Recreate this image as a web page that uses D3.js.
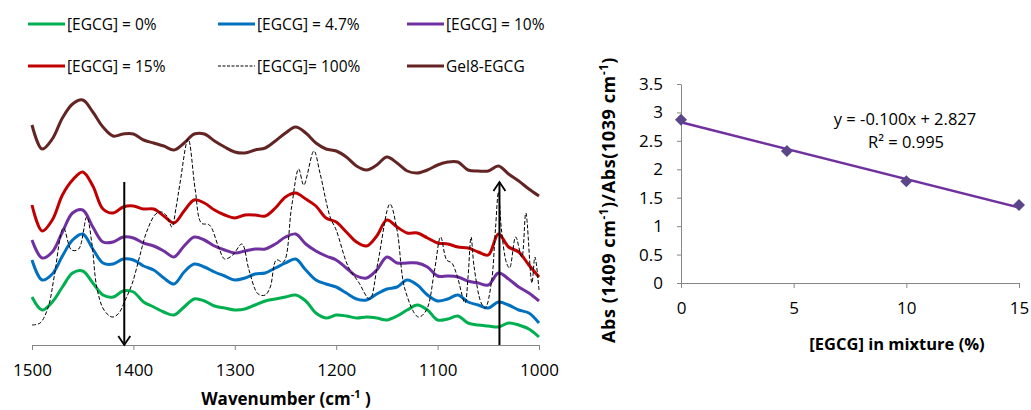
<!DOCTYPE html>
<meta charset="utf-8">
<body style="margin:0;background:#fff">
<script src="https://d3js.org/d3.v7.min.js"></script>
<svg></svg>
<script>
    // ---- data ----
    var wavenumber = [1500,1490,1480,1470,1460,1450,1440,1430,1420,1410,1400,1390,1380,1370,1360,1350,1340,1330,1320,1310,
        1300,1290,1280,1270,1260,1250,1240,1230,1220,1210,1200,1190,1180,1170,1160,1150,1140,1130,1120,1110,
        1100,1090,1080,1070,1060,1050,1040,1030,1020,1010,1000];

    var egcg0 = [0.49,0.36,0.44,0.59,0.73,0.75,0.63,0.51,0.49,0.55,0.54,0.44,0.39,0.34,0.31,0.39,0.47,0.45,0.40,0.38,
        0.36,0.37,0.41,0.45,0.47,0.49,0.51,0.45,0.33,0.28,0.31,0.30,0.28,0.29,0.28,0.26,0.30,0.36,0.41,0.36,
        0.26,0.27,0.30,0.23,0.21,0.20,0.19,0.23,0.21,0.17,0.09];
    var egcg47 = [0.86,0.66,0.72,0.90,1.06,1.12,0.97,0.83,0.82,0.87,0.86,0.80,0.76,0.68,0.62,0.74,0.82,0.79,0.74,0.70,
        0.66,0.68,0.72,0.73,0.78,0.83,0.87,0.76,0.66,0.62,0.59,0.53,0.47,0.46,0.52,0.57,0.59,0.66,0.61,0.51,
        0.45,0.47,0.51,0.44,0.41,0.38,0.44,0.41,0.36,0.33,0.23];
    var egcg10 = [1.06,0.88,0.94,1.14,1.33,1.36,1.19,1.04,1.04,1.09,1.08,1.03,1.00,0.95,0.89,1.00,1.09,1.06,1.00,0.96,
        0.93,0.95,0.97,0.97,1.02,1.09,1.12,1.02,0.95,0.90,0.86,0.78,0.70,0.68,0.76,0.89,0.83,0.83,0.83,0.79,
        0.70,0.70,0.69,0.65,0.63,0.61,0.73,0.67,0.59,0.53,0.45];
    var egcg15 = [1.41,1.15,1.26,1.51,1.66,1.74,1.60,1.37,1.33,1.39,1.40,1.37,1.37,1.30,1.23,1.35,1.46,1.43,1.36,1.31,
        1.28,1.31,1.31,1.30,1.38,1.49,1.53,1.47,1.40,1.28,1.24,1.14,1.04,1.00,1.10,1.26,1.19,1.13,1.13,1.08,
        1.03,1.02,0.99,0.98,0.94,0.91,1.12,0.99,0.94,0.81,0.69];
    var gel8Egcg = [2.21,1.97,2.07,2.28,2.42,2.46,2.34,2.19,2.10,2.12,2.12,2.06,2.03,2.00,1.96,2.03,2.12,2.12,2.05,1.99,
        1.94,1.93,1.96,1.98,2.05,2.13,2.19,2.13,2.03,1.97,1.95,1.89,1.80,1.76,1.81,1.89,1.83,1.75,1.73,1.76,
        1.81,1.84,1.84,1.76,1.75,1.75,1.80,1.72,1.65,1.57,1.50];

    // pure EGCG spectrum (sharper, so its own wavenumber list)
    var egcg100Wn = [1500,1492,1484,1478,1469,1461,1454,1446,1441,1436,1429,1421,1415,1408,1401,1394,1387,1378,1372,1367,
        1362,1358,1354,1346,1339,1333,1325,1316,1310,1302,1293,1286,1277,1270,1265,1259,1252,1244,1237,1232,
        1222,1216,1206,1200,1188,1178,1167,1159,1147,1140,1132,1119,1111,1103,1097,1091,1086,1081,1073,1070,
        1067,1064,1057,1053,1047,1043,1040,1037,1032,1029,1023,1017,1013,1007,1004,1000];
    var egcg100 = [0.21,0.23,0.39,0.70,1.18,0.96,0.97,1.29,1.03,0.58,0.36,0.29,0.32,0.46,0.63,0.89,1.14,1.32,1.34,1.30,
        1.19,1.38,1.63,2.07,1.56,1.23,1.21,0.99,0.87,0.91,1.02,0.76,0.52,0.51,0.59,0.86,0.84,1.39,1.77,1.61,
        1.95,1.73,1.29,1.16,0.79,0.64,0.47,0.83,1.42,1.16,0.56,0.29,0.36,0.76,1.09,0.86,0.83,0.71,0.43,0.69,
        1.09,0.79,0.43,0.38,0.63,1.16,1.54,1.16,0.83,0.78,1.09,0.89,1.33,0.63,0.89,0.56];

    var seriesNames = ["[EGCG] = 0%", "[EGCG] = 4.7%", "[EGCG] = 10%", "[EGCG] = 15%", "[EGCG]= 100%", "Gel8-EGCG"];
    var seriesColors = ["#00b050", "#0070c0", "#7030a0", "#c00000", "#000000", "#632523"];
    var xTicksL = [1500, 1400, 1300, 1200, 1100, 1000];
    var arrowWn = [1409, 1039]; // marked bands

    // right panel: ratio vs EGCG content
    var egcgPct = [0, 4.7, 10, 15];
    var absRatio = [2.87, 2.32, 1.79, 1.37];
    var fitSlope = -0.100, fitIntercept = 2.827, fitR2 = 0.995;
    var xTicksR = [0, 5, 10, 15];
    var yTicksR = [0, 0.5, 1, 1.5, 2, 2.5, 3, 3.5];

    // ---- setup ----
    var width = 1031, height = 410;
    var svg = d3.select("svg").attr("width", width).attr("height", height)
        .style("font-family", "'Open Sans', sans-serif");

    var series = seriesNames.map(function(name, i) {
        var wn = i == 4 ? egcg100Wn : wavenumber;
        var vals = [egcg0, egcg47, egcg10, egcg15, egcg100, gel8Egcg][i];
        return {name: name, color: seriesColors[i], dashed: i == 4,
            points: wn.map(function(w, j) { return [w, vals[j]]; })};
    });

    // ---- left panel: spectra ----
    var xL = d3.scaleLinear().domain([1500, 1000]).range([32, 539]);
    var yL = d3.scaleLinear().domain([0, 2.6]).range([346, 86]);

    var line = d3.line()
        .x(function(d) { return xL(d[0]); })
        .y(function(d) { return yL(d[1]); })
        .curve(d3.curveCatmullRom.alpha(0.5));

    var axL = svg.append("g").attr("transform", "translate(0,345)")
        .call(d3.axisBottom(xL).tickValues(xTicksL).tickFormat(d3.format("d"))
            .tickSize(5).tickSizeOuter(0).tickPadding(14));
    axL.selectAll("path,line").attr("stroke", "#868686");
    axL.selectAll("text").attr("font-size", 17).attr("fill", "#000").style("font-family", "'Open Sans', sans-serif");

    // solid spectra first, dashed pure EGCG on top
    var order = [0, 1, 2, 3, 5, 4];
    svg.selectAll(".spec").data(order.map(function(i) { return series[i]; }))
        .enter().append("path").attr("class", "spec")
        .attr("d", function(d) { return line(d.points); })
        .attr("fill", "none")
        .attr("stroke", function(d) { return d.color; })
        .attr("stroke-width", function(d) { return d.dashed ? 1 : 3; })
        .attr("stroke-dasharray", function(d) { return d.dashed ? "4,2" : null; });

    // arrows marking the two bands
    var arrowTop = 1.64;
    svg.selectAll(".arr").data(arrowWn).enter().append("g").attr("class", "arr")
        .each(function(wn, i) {
            var g = d3.select(this), x = xL(wn);
            var yTip = i == 0 ? 345 : yL(arrowTop), yTail = i == 0 ? yL(arrowTop) : 345;
            var dir = i == 0 ? -1 : 1;
            g.append("line").attr("x1", x).attr("x2", x).attr("y1", yTail).attr("y2", yTip)
                .attr("stroke", "#000").attr("stroke-width", 2);
            g.append("path").attr("d", "M" + (x - 6) + "," + (yTip + dir * 9) + "L" + x + "," + yTip + "L" + (x + 6) + "," + (yTip + dir * 9))
                .attr("fill", "none").attr("stroke", "#000").attr("stroke-width", 1.8);
        });

    var titleL = svg.append("text").attr("x", 286).attr("y", 405).attr("text-anchor", "middle")
        .attr("font-size", 17).attr("font-weight", "bold").attr("fill", "#000");
    titleL.append("tspan").text("Wavenumber (cm");
    titleL.append("tspan").attr("font-size", 11).attr("dy", -7).text("-1");
    titleL.append("tspan").attr("dy", 7).text(" )");

    // legend, two rows of three
    var leg = svg.selectAll(".leg").data(series).enter().append("g").attr("class", "leg")
        .attr("transform", function(d, i) {
            return "translate(" + [28, 218, 407][i % 3] + "," + (i < 3 ? 24 : 66) + ")";
        });
    leg.append("line").attr("x1", 0).attr("x2", 37).attr("y1", 0).attr("y2", 0)
        .attr("stroke", function(d) { return d.color; })
        .attr("stroke-width", function(d) { return d.dashed ? 1 : 3; })
        .attr("stroke-dasharray", function(d) { return d.dashed ? "3,1.5" : null; });
    leg.append("text").attr("x", 39).attr("y", 5.5).attr("font-size", 15.5).attr("fill", "#000")
        .text(function(d) { return d.name; });

    // ---- right panel: absorbance ratio ----
    var xR = d3.scaleLinear().domain([0, 15]).range([681, 1019]);
    var yR = d3.scaleLinear().domain([0, 3.5]).range([283, 84]);

    var axRx = svg.append("g").attr("transform", "translate(0,283)")
        .call(d3.axisBottom(xR).tickValues(xTicksR).tickSize(5).tickSizeOuter(0).tickPadding(14));
    var axRy = svg.append("g").attr("transform", "translate(681,0)")
        .call(d3.axisLeft(yR).tickValues(yTicksR).tickFormat(d3.format("~g"))
            .tickSize(4).tickSizeOuter(0).tickPadding(14));
    [axRx, axRy].forEach(function(a) {
        a.selectAll("path,line").attr("stroke", "#868686");
        a.selectAll("text").attr("font-size", 17).attr("fill", "#000").style("font-family", "'Open Sans', sans-serif");
    });

    // fitted trend line
    svg.append("line")
        .attr("x1", xR(0)).attr("y1", yR(fitIntercept))
        .attr("x2", xR(15)).attr("y2", yR(fitIntercept + fitSlope * 15))
        .attr("stroke", "#7030a0").attr("stroke-width", 2.5);

    svg.selectAll(".pt").data(egcgPct).enter().append("path").attr("class", "pt")
        .attr("d", d3.symbol(d3.symbolSquare, 72))
        .attr("transform", function(d, i) { return "translate(" + xR(d) + "," + yR(absRatio[i]) + ") rotate(45)"; })
        .attr("fill", "#5b4689");

    svg.append("text").attr("x", 905).attr("y", 125).attr("text-anchor", "middle").attr("font-size", 16.5).attr("fill", "#000")
        .text("y = " + fitSlope.toFixed(3) + "x + " + fitIntercept.toFixed(3));
    svg.append("text").attr("x", 906).attr("y", 148).attr("text-anchor", "middle").attr("font-size", 16.5).attr("fill", "#000")
        .text("R\u00b2 = " + fitR2.toFixed(3));

    svg.append("text").attr("x", 897).attr("y", 350).attr("text-anchor", "middle")
        .attr("font-size", 16.5).attr("font-weight", "bold").attr("fill", "#000")
        .text("[EGCG] in mixture (%)");

    var titleR = svg.append("text").attr("transform", "translate(615,200) rotate(-90)").attr("text-anchor", "middle")
        .attr("font-size", 18).attr("font-weight", "bold").attr("fill", "#000").style("letter-spacing", "0.6px");
    titleR.append("tspan").text("Abs (1409 cm");
    titleR.append("tspan").attr("font-size", 11.5).attr("dy", -7).text("-1");
    titleR.append("tspan").attr("dy", 7).text(")/Abs(1039 cm");
    titleR.append("tspan").attr("font-size", 11.5).attr("dy", -7).text("-1");
    titleR.append("tspan").attr("dy", 7).text(")");
</script>
